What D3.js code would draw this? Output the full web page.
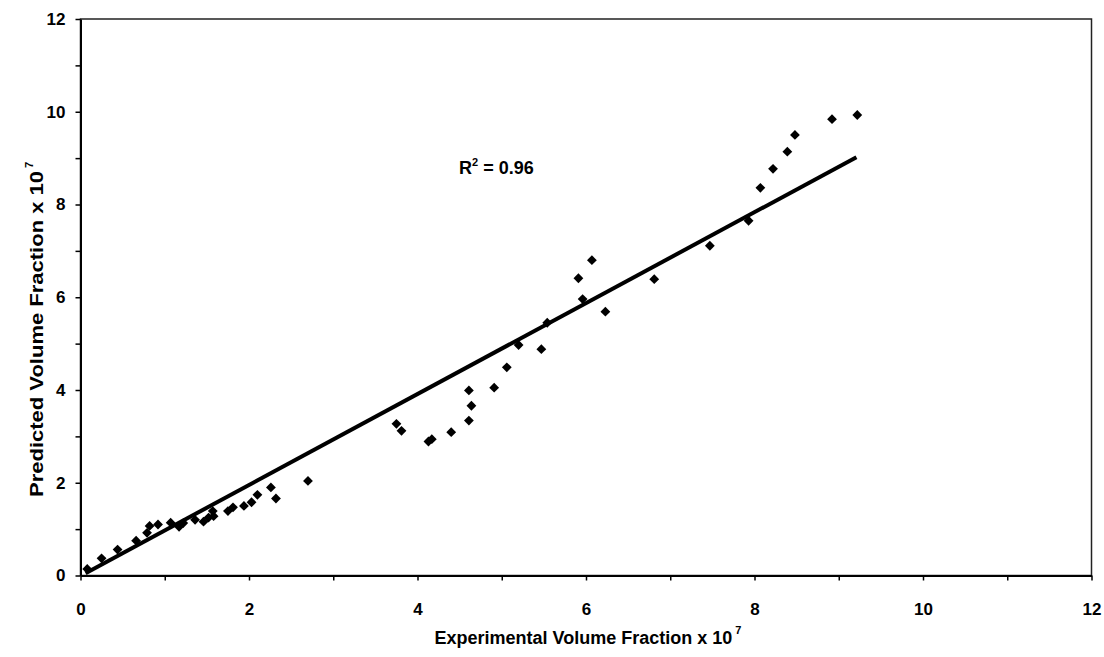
<!DOCTYPE html>
<html>
<head>
<meta charset="utf-8">
<script src="https://cdn.jsdelivr.net/npm/d3@7"></script>
<style>
  body { margin: 0; background: #fff; }
  text { font-family: "Liberation Sans", Arial, sans-serif; font-weight: bold; fill: #000; }
</style>
</head>
<body>
<div id="chart"></div>
<script>
// Experimental vs predicted volume fraction (x 10^7)
var experimental = [0.08, 0.25, 0.44, 0.66, 0.79, 0.82, 0.92, 1.07, 1.17, 1.22, 1.36, 1.46, 1.52, 1.58, 1.57,
  1.75, 1.81, 1.94, 2.03, 2.10, 2.26, 2.32, 2.70, 3.75, 3.81, 4.13, 4.17, 4.40, 4.61, 4.64, 4.61, 4.91,
  5.06, 5.20, 5.47, 5.54, 5.96, 5.91, 6.07, 6.23, 6.81, 7.47, 7.93, 8.07, 8.22, 8.39, 8.48, 8.92, 9.22];
var predicted = [0.14, 0.37, 0.56, 0.75, 0.92, 1.07, 1.10, 1.14, 1.05, 1.13, 1.20, 1.16, 1.25, 1.28, 1.39,
  1.39, 1.47, 1.50, 1.58, 1.74, 1.90, 1.66, 2.04, 3.27, 3.12, 2.89, 2.94, 3.09, 3.34, 3.66, 3.99, 4.05,
  4.49, 4.97, 4.88, 5.45, 5.96, 6.41, 6.80, 5.69, 6.39, 7.11, 7.65, 8.36, 8.77, 9.14, 9.50, 9.84, 9.93];

// fitted line end points
var fitX = [0.06, 9.21];
var fitY = [0.05, 9.02];

var xTicks = [0, 1, 2, 3, 4, 5, 6, 7, 8, 9, 10, 11, 12];
var yTicks = [0, 1, 2, 3, 4, 5, 6, 7, 8, 9, 10, 11, 12];
var r2Label = "0.96";

var W = 1104, H = 657;
var plot = {left: 80.5, right: 1091.5, top: 19, bottom: 575.5};

var svg = d3.select("#chart").append("svg")
  .attr("width", W)
  .attr("height", H);

var x = d3.scaleLinear().domain([0, 12]).range([plot.left, plot.right]);
var y = d3.scaleLinear().domain([0, 12]).range([plot.bottom, plot.top]);

// frame
svg.append("rect")
  .attr("x", x(0)).attr("y", y(12))
  .attr("width", x(12) - x(0)).attr("height", y(0) - y(12))
  .attr("fill", "none")
  .attr("stroke", "#222")
  .attr("stroke-width", 1.5);

function styleAxis(g) {
  g.select(".domain").attr("stroke", "#000").attr("stroke-width", 2);
  g.selectAll(".tick line").attr("stroke", "#000").attr("stroke-width", 1.5);
  g.selectAll("text")
    .attr("font-size", null).attr("font-family", null)
    .style("font-size", "17px")
    .style("font-family", "'Liberation Sans', Arial, sans-serif")
    .style("font-weight", "bold")
    .attr("fill", "#000");
}

// y axis
var yAxis = svg.append("g")
  .attr("transform", "translate(" + x(0) + ",0)")
  .call(d3.axisLeft(y).tickValues(yTicks).tickSize(5).tickSizeOuter(0).tickPadding(10)
    .tickFormat(d => d % 2 === 0 ? d : ""));
styleAxis(yAxis);

// x axis
var xAxis = svg.append("g")
  .attr("transform", "translate(0," + y(0) + ")")
  .call(d3.axisBottom(x).tickValues(xTicks).tickSize(5).tickSizeOuter(0).tickPadding(22)
    .tickFormat(d => d % 2 === 0 ? d : ""));
styleAxis(xAxis);

// fit line
svg.append("line")
  .attr("x1", x(fitX[0])).attr("y1", y(fitY[0]))
  .attr("x2", x(fitX[1])).attr("y2", y(fitY[1]))
  .attr("stroke", "#000")
  .attr("stroke-width", 4);

// points
var diamond = d3.symbol().type(d3.symbolSquare).size(48);
svg.append("g")
  .selectAll("path")
  .data(experimental.map((d, i) => [d, predicted[i]]))
  .enter().append("path")
  .attr("d", diamond)
  .attr("transform", d => "translate(" + x(d[0]) + "," + y(d[1]) + ") rotate(45)")
  .attr("fill", "#000");

// R^2 annotation
var r2 = svg.append("text")
  .attr("x", 459)
  .attr("y", 174)
  .style("font-size", "18px");
r2.append("tspan").text("R");
r2.append("tspan").attr("dy", -8).style("font-size", "11px").text("2");
r2.append("tspan").attr("dy", 8).text(" = " + r2Label);

// x label
var xl = svg.append("text")
  .attr("x", 588)
  .attr("y", 644)
  .attr("text-anchor", "middle")
  .style("font-size", "18px");
xl.append("tspan").text("Experimental Volume Fraction x 10");
xl.append("tspan").attr("dx", 3).attr("dy", -10).style("font-size", "11px").text("7");

// y label (stretched along its length in the reference)
var yl = svg.append("text")
  .attr("transform", "translate(43,497) rotate(-90)")
  .style("font-size", "18px");
yl.append("tspan").attr("textLength", 326).attr("lengthAdjust", "spacingAndGlyphs")
  .text("Predicted Volume Fraction x 10");
yl.append("tspan").attr("dx", 3).attr("dy", -10).style("font-size", "11px").text("7");
</script>
</body>
</html>
